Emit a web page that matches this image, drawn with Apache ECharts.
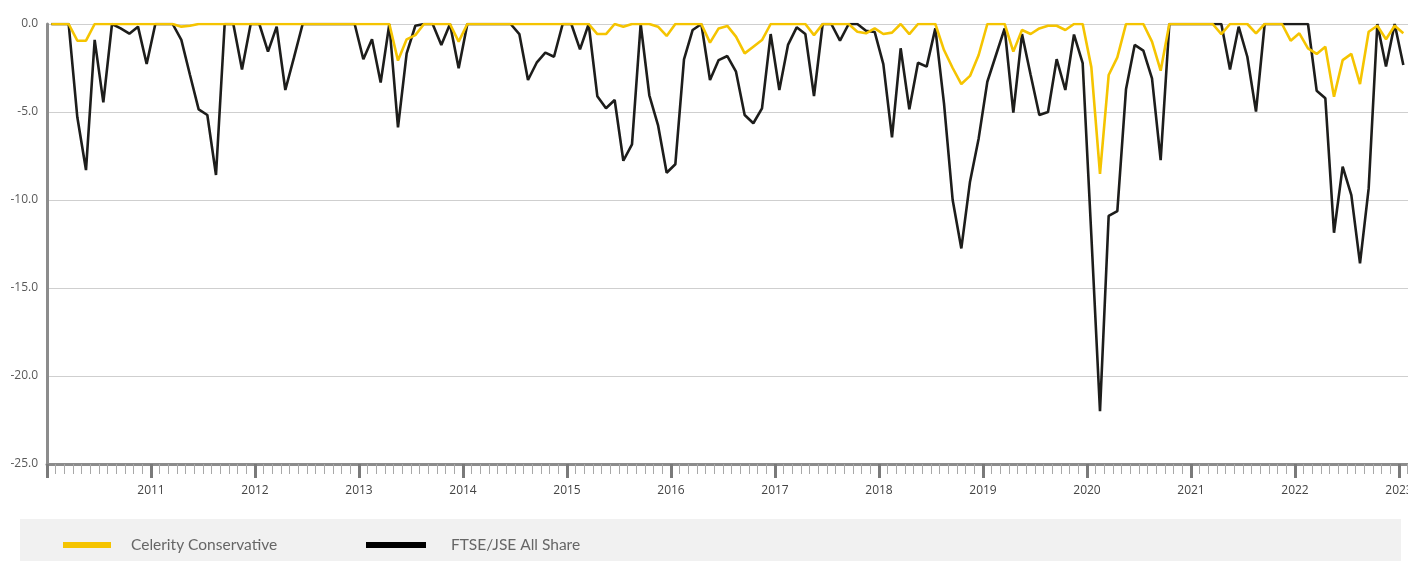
<!DOCTYPE html>
<html><head><meta charset="utf-8">
<script src="https://cdn.jsdelivr.net/npm/echarts@6/dist/echarts.min.js"></script>
<style>html,body{margin:0;padding:0;overflow:hidden;background:#fff}#c{width:1520px;height:561px}</style>
</head><body><div id="c"></div>
<script>
// Monthly categories Jan 2010 .. Dec 2023 (data runs to Jan 2023)
const startYear = 2010;
const monthCount = 168;
const months = [];
for (let k = 0; k < monthCount; k++) {
  const y = startYear + Math.floor(k / 12), m = k % 12 + 1;
  months.push(y + '-' + (m < 10 ? '0' + m : m));
}
const seriesNames = ['Celerity Conservative', 'FTSE/JSE All Share'];
const celerity = [0,0,0,-0.95,-0.95,0,0,0,0,0,
0,0,0,0,0,-0.15,-0.1,0,0,0,
0,0,0,0,0,0,0,0,0,0,
0,0,0,0,0,0,0,0,0,0,
-2.08,-0.87,-0.63,0,0,0,0,-1.0,0,0,
0,0,0,0,0,0,0,0,0,0,
0,0,0,-0.57,-0.57,0,-0.15,0,0,0,
-0.15,-0.68,0,0,0,0,-1.06,-0.25,-0.11,-0.72,
-1.67,-1.29,-0.91,0,0,0,0,0,-0.63,0,
0,0,0,-0.44,-0.53,-0.25,-0.57,-0.49,0,-0.57,
0,0,0,-1.48,-2.5,-3.41,-2.95,-1.76,0,0,
0,-1.57,-0.34,-0.57,-0.25,-0.1,-0.1,-0.34,0,0,
-2.45,-8.52,-2.9,-1.9,0,0,0,-1.0,-2.65,0,
0,0,0,0,0,-0.57,0,0,0,-0.53,
0,0,0,-0.95,-0.53,-1.38,-1.7,-1.29,-4.13,-2.05,
-1.7,-3.41,-0.44,-0.1,-0.87,-0.1,-0.53];
const ftse = [0,0,0,-5.3,-8.3,-0.9,-4.45,0,-0.25,-0.55,
-0.15,-2.27,0,0,0,-0.9,-2.9,-4.85,-5.17,-8.58,
0,0,-2.58,0,0,-1.57,-0.15,-3.75,-1.9,0,
0,0,0,0,0,0,-2.0,-0.87,-3.33,0,
-5.87,-1.67,-0.1,0,0,-1.19,0,-2.52,0,0,
0,0,0,0,-0.57,-3.18,-2.2,-1.63,-1.86,0,
0,-1.44,0,-4.1,-4.79,-4.32,-7.77,-6.84,0,-4.05,
-5.74,-8.45,-7.97,-2.01,-0.34,0,-3.18,-2.05,-1.82,-2.71,
-5.17,-5.64,-4.79,-0.57,-3.75,-1.19,-0.19,-0.57,-4.09,0,
0,-0.95,0,0,-0.38,-0.45,-2.28,-6.44,-1.38,-4.85,
-2.2,-2.42,-0.25,-4.51,-10.0,-12.75,-8.96,-6.5,-3.28,-1.76,
-0.25,-5.04,-0.57,-2.9,-5.17,-5.0,-2.0,-3.75,-0.6,-2.23,
-12.0,-22.0,-10.9,-10.63,-3.71,-1.19,-1.51,-3.09,-7.73,0,
0,0,0,0,0,0,-2.58,-0.15,-1.86,-4.98,
0,0,0,0,0,0,-3.79,-4.22,-11.86,-8.1,
-9.72,-13.6,-9.34,0,-2.42,0,-2.33];
const yMin = -25, yMax = 0, yStep = 5;

const chart = echarts.init(document.getElementById('c'), null, {renderer: 'canvas'});
const gray = '#8c8c8c';
chart.setOption({
  animation: false,
  backgroundColor: '#fff',
  grid: {left: 47, top: 24, width: 1456, height: 440, containLabel: false},
  graphic: [{type: 'rect', left: 20, top: 519, shape: {width: 1381, height: 60}, style: {fill: '#f1f1f1'}, z: 0, silent: true}],
  legend: [
    {data: [seriesNames[0]], left: 63, top: 537, padding: 0, icon: 'rect', itemWidth: 48, itemHeight: 6, z: 5,
     textStyle: {fontFamily: 'Lato', fontSize: 15.5, color: '#666', padding: [0, 0, 0, 15]}},
    {data: [seriesNames[1]], left: 366, top: 537, padding: 0, icon: 'rect', itemWidth: 60, itemHeight: 6, z: 5,
     textStyle: {fontFamily: 'Lato', fontSize: 15.5, color: '#666', padding: [0, 0, 0, 20]}}
  ],
  xAxis: [
    {type: 'category', data: months, boundaryGap: true, position: 'top', show: false,
     axisLine: {onZero: false}},
    {type: 'value', min: 0, max: monthCount, interval: 12, position: 'bottom',
     axisLine: {show: true, onZero: false, lineStyle: {color: gray, width: 3}},
     axisTick: {show: true, length: 14, lineStyle: {color: '#7a7a7a', width: 3}},
     minorTick: {show: true, splitNumber: 12, length: 10, lineStyle: {color: '#a8a8a8', width: 1}},
     splitLine: {show: false},
     axisLabel: {margin: 21, fontFamily: 'Open Sans', fontSize: 12, color: '#444',
       showMinLabel: false, showMaxLabel: false,
       formatter: v => (v % 12 === 0 && v > 0 && v < monthCount) ? String(startYear + v / 12) : ''}}
  ],
  yAxis: {type: 'value', min: yMin, max: yMax, interval: yStep,
    axisLine: {show: true, onZero: false, lineStyle: {color: gray, width: 3}},
    axisTick: {show: false},
    splitLine: {show: true, lineStyle: {color: '#cfcfcf', width: 1}},
    axisLabel: {margin: 9, fontFamily: 'Open Sans', fontSize: 12, color: '#595959', formatter: v => v.toFixed(1)}},
  series: [
    {name: seriesNames[1], type: 'line', xAxisIndex: 0, data: ftse, symbol: 'none', z: 3,
     itemStyle: {color: '#000'}, lineStyle: {color: '#1d1d1b', width: 2.6}},
    {name: seriesNames[0], type: 'line', xAxisIndex: 0, data: celerity, symbol: 'none', z: 4,
     itemStyle: {color: '#f5c400'}, lineStyle: {color: '#f5c400', width: 2.6}}
  ]
});
</script></body></html>
